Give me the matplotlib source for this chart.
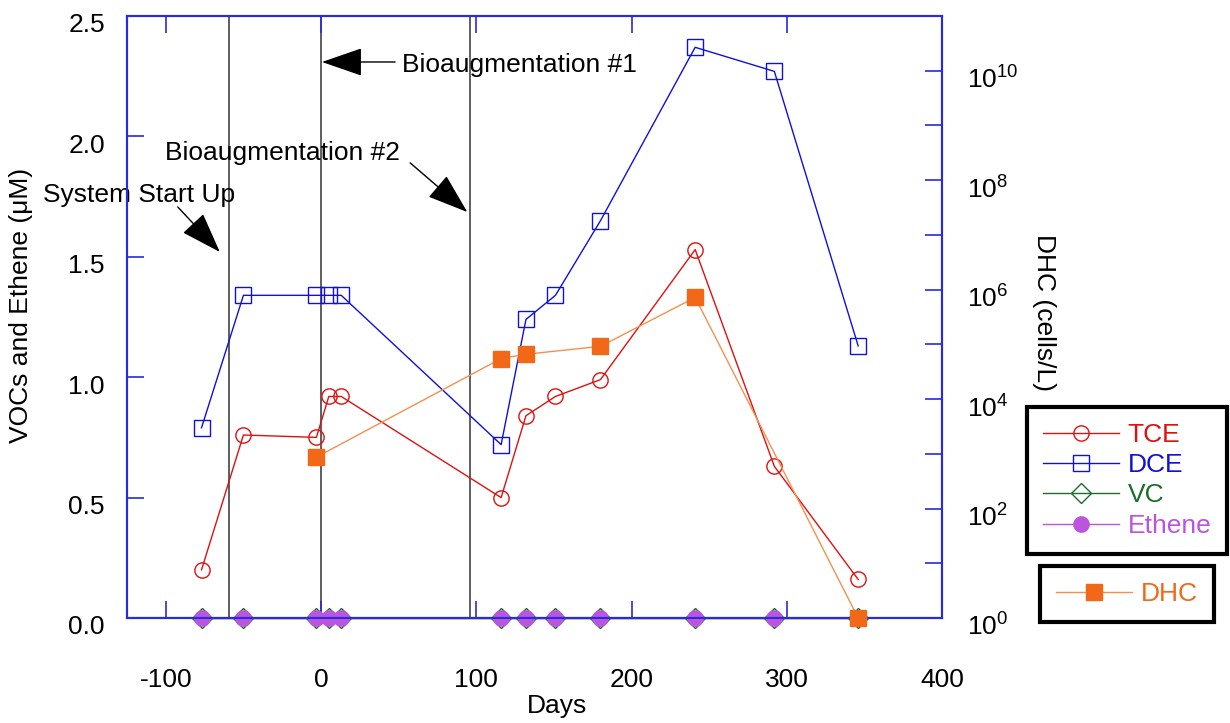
import matplotlib
matplotlib.use("Agg")
import matplotlib.pyplot as plt
from matplotlib.lines import Line2D
import matplotlib.transforms as mtransforms

plt.rcParams['font.family'] = ['Liberation Sans', 'DejaVu Sans']
plt.rcParams['mathtext.fontset'] = 'custom'
plt.rcParams['mathtext.rm'] = 'Liberation Sans'
plt.rcParams['mathtext.default'] = 'regular'

# ---- data ----
days = [-77, -50, -3, 5, 13, 116, 132, 151, 180, 241, 292, 346]
tce = [0.20, 0.76, 0.75, 0.92, 0.92, 0.50, 0.84, 0.92, 0.99, 1.53, 0.63, 0.16]
dce = [0.79, 1.34, 1.34, 1.34, 1.34, 0.72, 1.24, 1.34, 1.65, 2.37, 2.27, 1.13]
vc = [0.0] * 12
ethene = [0.0] * 12
dhc_days = [-3, 116, 132, 180, 241, 346]
dhc = [8.7e2, 5.5e4, 6.6e4, 9.2e4, 7.2e5, 1.0]
event_days = [-59, 0, 96]
x_ticks = [-100, 0, 100, 200, 300, 400]
y_ticks = [0.0, 0.5, 1.0, 1.5, 2.0, 2.5]

RED = '#e01010'
BLUE = '#1010dd'
GREEN = '#1d6e2c'
PURPLE = '#bb55dd'
ORANGE = '#f06818'
ORANGE_L = '#f59050'
SPINE = '#2a2ae0'
FS = 19

fig = plt.figure(figsize=(12.3, 7.23), dpi=100)
ax = fig.add_axes([127/1230, 1-618/723, 815/1230, 602/723])
ax2 = ax.twinx()

for d in event_days:
    ax.axvline(d, color='#333333', lw=1.1, zorder=1)

ax.plot(days, tce, color=RED, lw=1.0, marker='o', ms=11, mfc='none', mec=RED, mew=1.0, zorder=3)
ax.plot(days, dce, color=BLUE, lw=1.0, marker='s', ms=11, mfc='none', mec=BLUE, mew=1.0, zorder=3)
ax.plot(days, vc, color=GREEN, lw=1.0, marker='D', ms=10, mfc='none', mec=GREEN, mew=1.0, zorder=3, clip_on=False)
ax.plot(days, ethene, color=PURPLE, lw=1.0, marker='o', ms=11, mfc=PURPLE, mec=PURPLE, zorder=3, clip_on=False)
ax.axhline(0, color=SPINE, lw=1.5, zorder=3.5)

ax2.plot(dhc_days, dhc, color=ORANGE_L, lw=1.0, marker='s', ms=12, mfc=ORANGE, mec=ORANGE, zorder=4, clip_on=False)
ax2.set_yscale('log')
ax2.set_ylim(1, 1e11)

ax.set_xlim(-125, 400)
ax.set_ylim(0, 2.5)
ax.set_xticks(x_ticks)
ax.set_xticklabels([str(v) for v in x_ticks])
ax.set_yticks(y_ticks)
ax.set_yticklabels([f'{v:.1f}' for v in y_ticks])

for a in (ax, ax2):
    for s in a.spines.values():
        s.set_color(SPINE)
        s.set_linewidth(1.5)

ax.tick_params(axis='x', direction='in', length=12, color=SPINE, width=1.2, labelsize=FS, pad=36, top=True)
ax.tick_params(axis='y', direction='in', length=12, color=SPINE, width=1.2, labelsize=FS, pad=16)
ax2.set_yticks([10**k for k in range(0, 12)])
ax2.set_yticklabels([f'$10^{{{k}}}$' if k % 2 == 0 and k <= 10 else '' for k in range(0, 12)])
ax2.minorticks_off()
ax2.tick_params(axis='y', direction='in', length=12, color=SPINE, width=1.2, labelsize=FS, pad=18)

offset = mtransforms.ScaledTranslation(0, -7/100, fig.dpi_scale_trans)
for lab in ax.get_yticklabels() + ax2.get_yticklabels():
    lab.set_transform(lab.get_transform() + offset)

ax.set_xlabel('Days', fontsize=FS)
ax.xaxis.set_label_coords(0.527, -0.126)
ax.set_ylabel('VOCs and Ethene (\u03bcM)', fontsize=FS)
ax.yaxis.set_label_coords(-0.1155, 0.52)
ax2.set_ylabel('DHC (cells/L)', fontsize=FS, rotation=-90)
ax2.yaxis.set_label_coords(1.14, 0.508)

# annotations
akw = dict(arrowstyle='-|>,head_length=1.3,head_width=0.45', color='black', lw=1.0, mutation_scale=20, shrinkA=0, shrinkB=0)
ax.annotate('', xy=(0.6, 2.309), xytext=(47.7, 2.309), arrowprops=akw, annotation_clip=False)
ax.text(52.3, 2.297, 'Bioaugmentation #1', fontsize=FS, va='center', ha='left')
ax.annotate('', xy=(94.2, 1.686), xytext=(57.4, 1.89), arrowprops=akw, annotation_clip=False)
ax.text(-100.6, 1.931, 'Bioaugmentation #2', fontsize=FS, va='center', ha='left')
ax.annotate('', xy=(-65.2, 1.52), xytext=(-92.3, 1.707), arrowprops=akw, annotation_clip=False)
ax.text(-179.4, 1.757, 'System Start Up', fontsize=FS, va='center', ha='left', clip_on=False)

# legends
h1 = [Line2D([], [], color=RED, lw=1.0, marker='o', ms=11, mfc='none', mec=RED),
      Line2D([], [], color=BLUE, lw=1.0, marker='s', ms=11, mfc='none', mec=BLUE),
      Line2D([], [], color=GREEN, lw=1.0, marker='D', ms=10, mfc='none', mec=GREEN),
      Line2D([], [], color=PURPLE, lw=1.0, marker='o', ms=11, mfc=PURPLE, mec=PURPLE)]
l1 = ['TCE', 'DCE', 'VC', 'Ethene']
leg1 = fig.legend(h1, l1, loc='upper left', bbox_to_anchor=(1027/1230, 1-407/723),
                  fontsize=FS, handlelength=2.88, handletextpad=0.34, labelspacing=0.24,
                  borderpad=0.6, borderaxespad=0, fancybox=False, framealpha=1, edgecolor='black')
leg1.get_frame().set_linewidth(3)
for t, c in zip(leg1.get_texts(), [RED, BLUE, GREEN, PURPLE]):
    t.set_color(c)

h2 = [Line2D([], [], color=ORANGE_L, lw=1.0, marker='s', ms=12, mfc=ORANGE, mec=ORANGE)]
leg2 = fig.legend(h2, ['DHC'], loc='upper left', bbox_to_anchor=(1040/1230, 1-566/723),
                  fontsize=FS, handlelength=2.88, handletextpad=0.34,
                  borderpad=0.6, borderaxespad=0, fancybox=False, framealpha=1, edgecolor='black')
leg2.get_frame().set_linewidth(3)
leg2.get_texts()[0].set_color(ORANGE)

fig.savefig('out.png', dpi=100)
